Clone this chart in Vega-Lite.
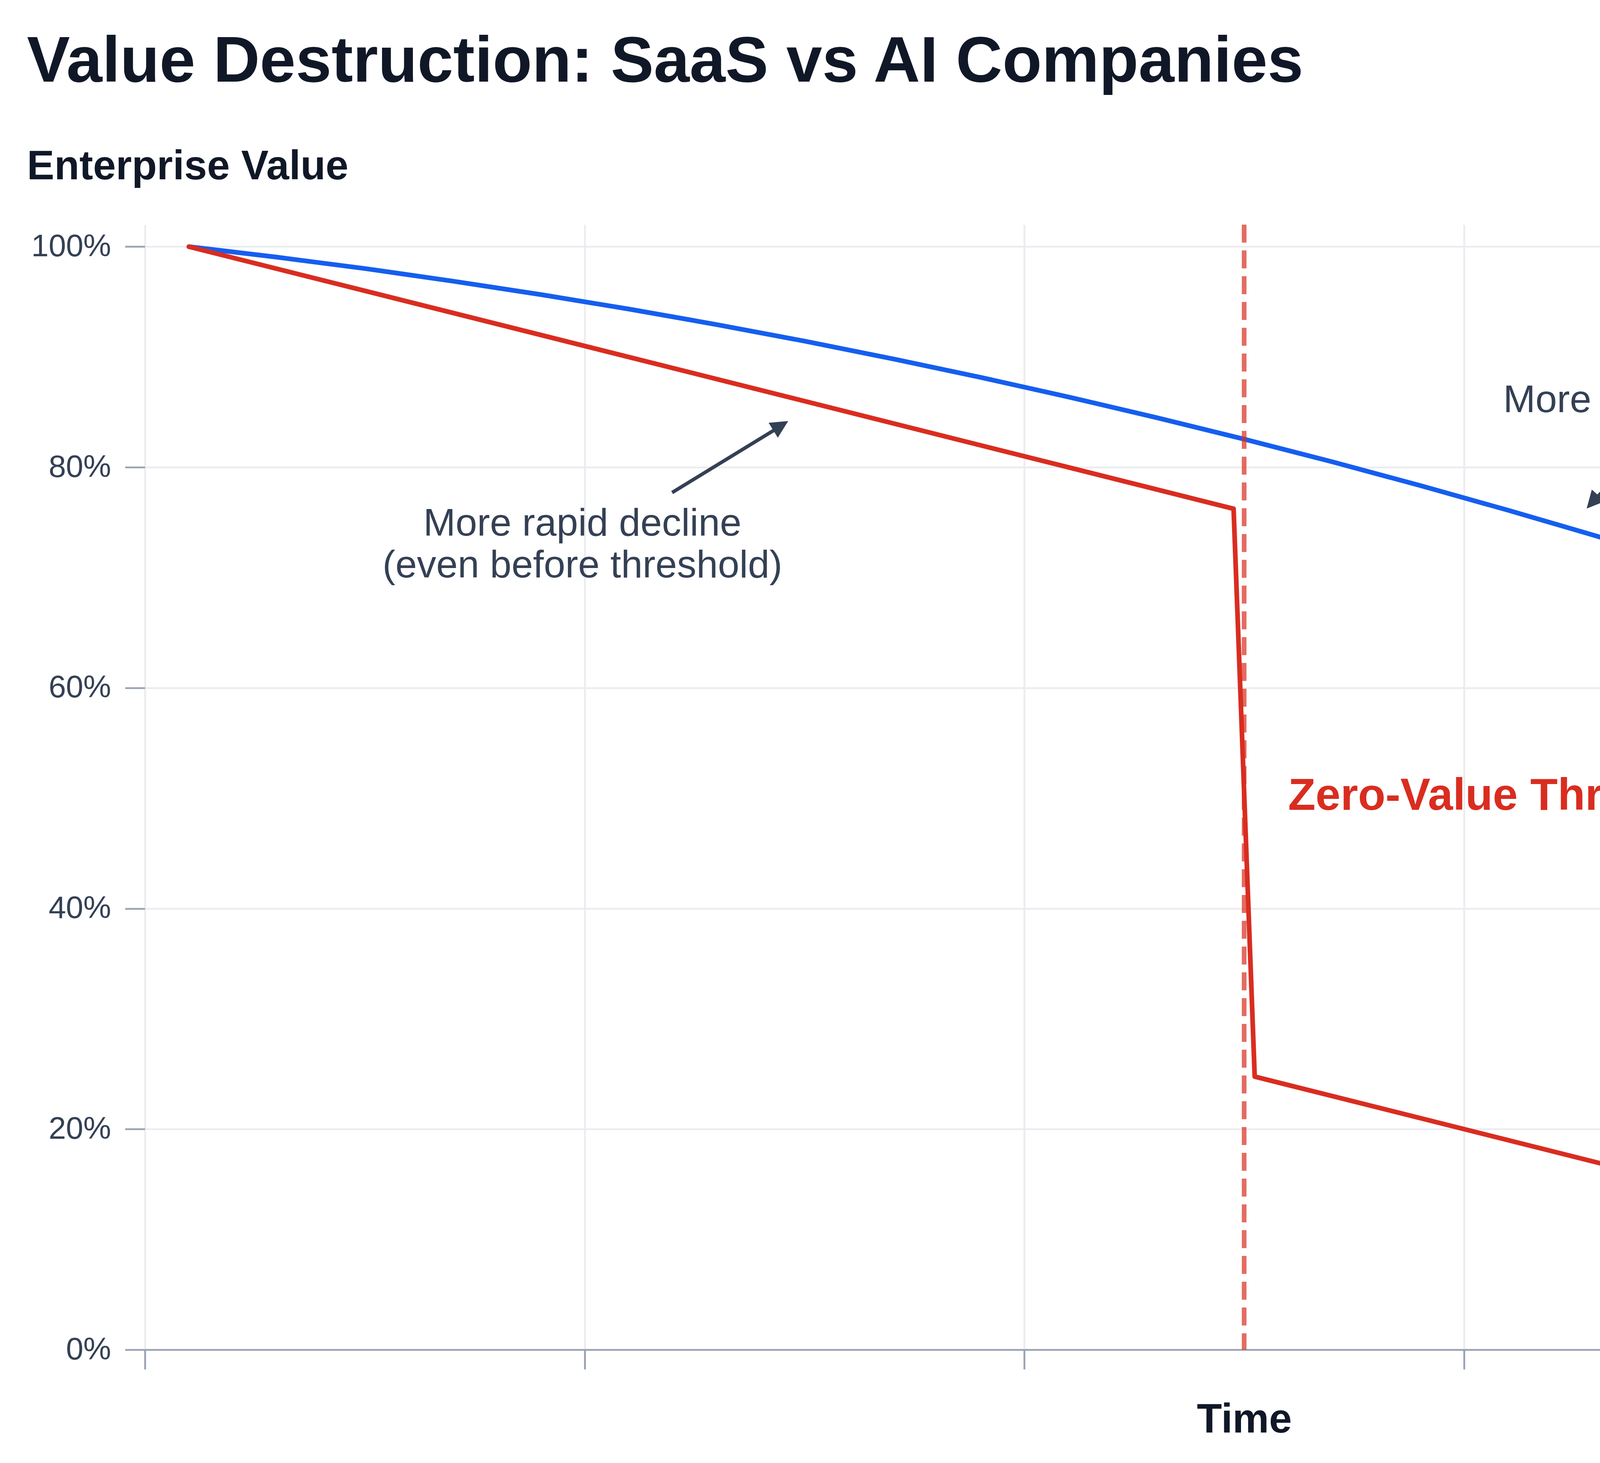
{
  "$schema": "https://vega.github.io/schema/vega-lite/v6.json",
  "width": 5628,
  "height": 2880,
  "autosize": {"type": "none"},
  "padding": {"left": 371, "top": 575, "right": 1358, "bottom": 290},
  "background": "white",
  "title": {
    "text": "Value Destruction: SaaS vs AI Companies",
    "subtitle": "Enterprise Value",
    "anchor": "start",
    "frame": "group",
    "dx": -302,
    "offset": -430,
    "font": "Liberation Sans",
    "fontSize": 165,
    "fontWeight": "bold",
    "color": "#101828",
    "subtitleFont": "Liberation Sans",
    "subtitleFontSize": 105,
    "subtitleFontWeight": "bold",
    "subtitleColor": "#101828",
    "subtitlePadding": 132
  },
  "config": {"view": {"stroke": null}, "font": "Liberation Sans"},
  "datasets": {
    "series": [
      {"x": 1, "y": 1.0, "company": "Traditional SaaS"},
      {"x": 3, "y": 0.9905, "company": "Traditional SaaS"},
      {"x": 5, "y": 0.9802, "company": "Traditional SaaS"},
      {"x": 7, "y": 0.9688, "company": "Traditional SaaS"},
      {"x": 9, "y": 0.9566, "company": "Traditional SaaS"},
      {"x": 11, "y": 0.9435, "company": "Traditional SaaS"},
      {"x": 13, "y": 0.9294, "company": "Traditional SaaS"},
      {"x": 15, "y": 0.9144, "company": "Traditional SaaS"},
      {"x": 17, "y": 0.8984, "company": "Traditional SaaS"},
      {"x": 19, "y": 0.8816, "company": "Traditional SaaS"},
      {"x": 21, "y": 0.8638, "company": "Traditional SaaS"},
      {"x": 23, "y": 0.8451, "company": "Traditional SaaS"},
      {"x": 25, "y": 0.8255, "company": "Traditional SaaS"},
      {"x": 27, "y": 0.805, "company": "Traditional SaaS"},
      {"x": 29, "y": 0.7835, "company": "Traditional SaaS"},
      {"x": 31, "y": 0.7611, "company": "Traditional SaaS"},
      {"x": 33, "y": 0.7378, "company": "Traditional SaaS"},
      {"x": 35, "y": 0.7135, "company": "Traditional SaaS"},
      {"x": 37, "y": 0.6884, "company": "Traditional SaaS"},
      {"x": 39, "y": 0.6623, "company": "Traditional SaaS"},
      {"x": 41, "y": 0.6353, "company": "Traditional SaaS"},
      {"x": 43, "y": 0.6073, "company": "Traditional SaaS"},
      {"x": 45, "y": 0.5785, "company": "Traditional SaaS"},
      {"x": 47, "y": 0.5487, "company": "Traditional SaaS"},
      {"x": 49, "y": 0.518, "company": "Traditional SaaS"},
      {"x": 1, "y": 1.0, "company": "AI Company"},
      {"x": 24.76, "y": 0.7624, "company": "AI Company"},
      {"x": 25.24, "y": 0.2476, "company": "AI Company"},
      {"x": 49, "y": 0.01, "company": "AI Company"}
    ],
    "arrows": [
      {"note": "gradual", "x": 34.23, "y": 0.8266, "x2": 32.97, "y2": 0.7701},
      {"note": "rapid", "x": 11.99, "y": 0.7771, "x2": 14.4, "y2": 0.8359}
    ],
    "heads": [
      {"note": "gradual", "x": 32.79, "y": 0.7626},
      {"note": "rapid", "x": 14.63, "y": 0.8419}
    ],
    "notes": [
      {"x": 35.0, "y": 0.85, "label": "More gradual decline"},
      {"x": 9.95, "y": 0.7381, "label": "More rapid decline"},
      {"x": 9.95, "y": 0.7002, "label": "(even before threshold)"}
    ],
    "threshold": [
      {"x": 26.0, "y": 0.4896, "label": "Zero-Value Threshold"}
    ],
    "logo_path": [
      {"seq": 1, "x": 55.58, "y": 1.1904},
      {"seq": 2, "x": 55.22, "y": 1.1985},
      {"seq": 3, "x": 54.79, "y": 1.1773},
      {"seq": 4, "x": 54.87, "y": 1.161},
      {"seq": 5, "x": 53.51, "y": 1.1429},
      {"seq": 6, "x": 52.83, "y": 1.1047},
      {"seq": 7, "x": 53.75, "y": 1.1217},
      {"seq": 8, "x": 55.56, "y": 1.1333},
      {"seq": 9, "x": 55.31, "y": 1.1542},
      {"seq": 10, "x": 54.87, "y": 1.161}
    ],
    "logo_stars": [
      {"x": 55.22, "y": 1.1985, "star": "small"},
      {"x": 55.58, "y": 1.1904, "star": "big"},
      {"x": 54.79, "y": 1.1773, "star": "small"},
      {"x": 54.87, "y": 1.161, "star": "big"},
      {"x": 55.31, "y": 1.1542, "star": "small"},
      {"x": 55.56, "y": 1.1333, "star": "big"},
      {"x": 53.51, "y": 1.1429, "star": "big"},
      {"x": 53.75, "y": 1.1217, "star": "small"},
      {"x": 52.83, "y": 1.1047, "star": "big"}
    ],
    "logo_text": [
      {"x": 55.93, "y": 1.1517, "label": "LEONIS"},
      {"x": 55.91, "y": 1.1103, "label": "CAPITAL"}
    ]
  },
  "layer": [
    {
      "data": {"name": "series"},
      "transform": [{"filter": "datum.company === 'Traditional SaaS'"}],
      "mark": {"type": "line", "strokeWidth": 12, "strokeCap": "round", "strokeJoin": "round", "interpolate": "monotone"},
      "encoding": {
        "x": {
          "field": "x",
          "type": "quantitative",
          "scale": {"domain": [0, 50], "nice": false, "zero": false},
          "axis": {
            "title": "Time",
            "titleFont": "Liberation Sans",
            "titleFontSize": 105,
            "titleFontWeight": "bold",
            "titleColor": "#101828",
            "titlePadding": 76,
            "labels": false,
            "values": [0, 10, 20, 30, 40],
            "ticks": true,
            "tickSize": 50,
            "tickWidth": 4.7,
            "tickColor": "#98A2B3",
            "domain": true,
            "domainColor": "#98A2B3",
            "domainWidth": 4.7,
            "grid": true,
            "gridColor": "#EAECF0",
            "gridWidth": 4.7
          }
        },
        "y": {
          "field": "y",
          "type": "quantitative",
          "scale": {"domain": [0, 1.02], "nice": false, "zero": false},
          "axis": {
            "title": null,
            "values": [0, 0.2, 0.4, 0.6, 0.8, 1],
            "format": ".0%",
            "labelFont": "Liberation Sans",
            "labelFontSize": 80,
            "labelColor": "#344054",
            "labelPadding": 36,
            "labelLimit": 500,
            "tickSize": 51,
            "tickWidth": 4.7,
            "tickColor": "#98A2B3",
            "domain": false,
            "grid": true,
            "gridColor": "#EAECF0",
            "gridWidth": 4.7
          }
        },
        "color": {
          "field": "company",
          "type": "nominal",
          "scale": {"domain": ["Traditional SaaS", "AI Company"], "range": ["#155EEF", "#D92D20"]},
          "legend": {
            "orient": "none",
            "legendX": 5773,
            "legendY": 58,
            "title": null,
            "symbolType": "stroke",
            "symbolSize": 51076,
            "symbolStrokeWidth": 12,
            "clipHeight": 154,
            "rowPadding": 0,
            "padding": 0,
            "labelFont": "Liberation Sans",
            "labelFontSize": 108,
            "labelColor": "#101828",
            "labelOffset": 74,
            "labelLimit": 1200
          }
        }
      }
    },
    {
      "data": {"name": "series"},
      "transform": [{"filter": "datum.company === 'AI Company'"}],
      "mark": {"type": "line", "strokeWidth": 12, "strokeCap": "round", "strokeJoin": "round"},
      "encoding": {
        "x": {"field": "x", "type": "quantitative"},
        "y": {"field": "y", "type": "quantitative"},
        "color": {"field": "company", "type": "nominal"}
      }
    },
    {
      "data": {"values": [{}]},
      "mark": {"type": "rule", "color": "#D92D20", "opacity": 0.7, "strokeWidth": 12, "strokeDash": [46, 20]},
      "encoding": {"x": {"datum": 25, "type": "quantitative"}}
    },
    {
      "data": {"name": "arrows"},
      "mark": {"type": "rule", "color": "#344054", "strokeWidth": 9},
      "encoding": {
        "x": {"field": "x", "type": "quantitative"},
        "y": {"field": "y", "type": "quantitative"},
        "x2": {"field": "x2"},
        "y2": {"field": "y2"}
      }
    },
    {
      "data": {"name": "heads"},
      "transform": [{"filter": "datum.note === 'gradual'"}],
      "mark": {"type": "point", "shape": "M0,0L-0.5,1L0.5,1Z", "size": 8100, "filled": true, "opacity": 1, "color": "#344054", "angle": 221.8},
      "encoding": {
        "x": {"field": "x", "type": "quantitative"},
        "y": {"field": "y", "type": "quantitative"}
      }
    },
    {
      "data": {"name": "heads"},
      "transform": [{"filter": "datum.note === 'rapid'"}],
      "mark": {"type": "point", "shape": "M0,0L-0.5,1L0.5,1Z", "size": 8100, "filled": true, "opacity": 1, "color": "#344054", "angle": 58.4},
      "encoding": {
        "x": {"field": "x", "type": "quantitative"},
        "y": {"field": "y", "type": "quantitative"}
      }
    },
    {
      "data": {"name": "notes"},
      "mark": {"type": "text", "align": "center", "baseline": "alphabetic", "font": "Liberation Sans", "fontSize": 99, "color": "#344054"},
      "encoding": {
        "x": {"field": "x", "type": "quantitative"},
        "y": {"field": "y", "type": "quantitative"},
        "text": {"field": "label"}
      }
    },
    {
      "data": {"name": "threshold"},
      "mark": {"type": "text", "align": "left", "baseline": "alphabetic", "font": "Liberation Sans", "fontSize": 115, "fontWeight": "bold", "color": "#D92D20"},
      "encoding": {
        "x": {"field": "x", "type": "quantitative"},
        "y": {"field": "y", "type": "quantitative"},
        "text": {"field": "label"}
      }
    },
    {
      "data": {"name": "logo_path"},
      "mark": {"type": "line", "color": "#000000", "strokeWidth": 5},
      "encoding": {
        "x": {"field": "x", "type": "quantitative"},
        "y": {"field": "y", "type": "quantitative"},
        "order": {"field": "seq"}
      }
    },
    {
      "data": {"name": "logo_stars"},
      "mark": {"type": "point", "shape": "M0,-1L0.22,-0.22L1,0L0.22,0.22L0,1L-0.22,0.22L-1,0L-0.22,-0.22Z", "fill": "#ffffff", "stroke": "#000000", "strokeWidth": 4, "opacity": 1},
      "encoding": {
        "x": {"field": "x", "type": "quantitative"},
        "y": {"field": "y", "type": "quantitative"},
        "size": {"field": "star", "type": "ordinal", "scale": {"domain": ["big", "small"], "range": [2700, 500]}, "legend": null}
      }
    },
    {
      "data": {"name": "logo_text"},
      "transform": [{"filter": "datum.label === 'LEONIS'"}],
      "mark": {"type": "text", "align": "left", "baseline": "alphabetic", "font": "Open Sans", "fontSize": 127, "fontWeight": "bold", "color": "#111111"},
      "encoding": {
        "x": {"field": "x", "type": "quantitative"},
        "y": {"field": "y", "type": "quantitative"},
        "text": {"field": "label"}
      }
    },
    {
      "data": {"name": "logo_text"},
      "transform": [{"filter": "datum.label === 'CAPITAL'"}],
      "mark": {"type": "text", "align": "left", "baseline": "alphabetic", "font": "Open Sans", "fontSize": 131, "fontWeight": 300, "color": "#111111"},
      "encoding": {
        "x": {"field": "x", "type": "quantitative"},
        "y": {"field": "y", "type": "quantitative"},
        "text": {"field": "label"}
      }
    }
  ]
}
